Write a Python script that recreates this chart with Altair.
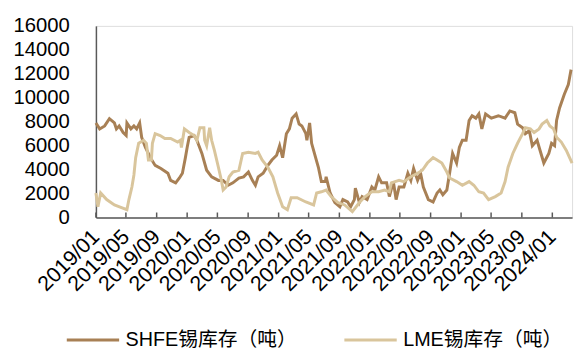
import altair as alt
import pandas as pd

shfe_dates = ["2019/01/01","2019/01/16","2019/02/05","2019/02/24","2019/03/16","2019/03/24","2019/04/04","2019/04/20",
"2019/05/02","2019/05/05","2019/05/21","2019/06/02","2019/06/13","2019/06/25","2019/07/03","2019/07/18","2019/08/07",
"2019/08/26","2019/09/18","2019/10/16","2019/10/27","2019/11/16","2019/12/01","2019/12/13","2019/12/25","2020/01/01",
"2020/01/09","2020/01/29","2020/02/09","2020/02/29","2020/03/19","2020/04/08","2020/05/05","2020/05/24","2020/06/13",
"2020/07/02","2020/07/26","2020/08/14","2020/09/02","2020/09/18","2020/09/30","2020/10/11","2020/10/31","2020/11/19",
"2020/12/05","2020/12/24","2021/01/05","2021/01/17","2021/02/01","2021/02/13","2021/02/24","2021/03/12","2021/03/24",
"2021/04/04","2021/04/20","2021/04/24","2021/05/05","2021/05/13","2021/05/29","2021/06/09","2021/06/21","2021/07/07",
"2021/07/10","2021/07/26","2021/08/14","2021/09/03","2021/09/15","2021/10/04","2021/10/16","2021/10/31","2021/11/04",
"2021/11/20","2021/12/01","2021/12/21","2022/01/09","2022/01/21","2022/02/05","2022/02/17","2022/03/09","2022/03/20",
"2022/04/05","2022/04/16","2022/04/28","2022/05/17","2022/06/02","2022/06/14","2022/06/25","2022/07/11","2022/07/23",
"2022/08/03","2022/08/23","2022/09/11","2022/09/27","2022/10/08","2022/10/20","2022/11/05","2022/11/16","2022/11/28",
"2022/12/14","2022/12/25","2023/01/06","2023/01/21","2023/02/02","2023/02/14","2023/03/01","2023/03/13","2023/03/25",
"2023/04/09","2023/05/02","2023/05/30","2023/06/26","2023/07/15","2023/08/04","2023/08/15","2023/09/04","2023/09/15",
"2023/10/01","2023/10/13","2023/11/01","2023/11/13","2023/11/28","2023/12/18","2023/12/29","2024/01/10","2024/01/18",
"2024/01/30","2024/02/18","2024/03/05","2024/03/16"]
shfe_values = [7900,7400,7650,8250,7900,7400,7650,7100,
6850,7900,7400,7650,7400,7900,6700,5850,5000,
4350,4100,3700,3100,2900,3300,3700,5000,5850,
6700,6850,6450,5350,3950,3400,3100,3100,2700,
2900,3300,3400,3800,3100,2700,3400,3700,4350,
4800,5200,6000,5000,7000,7400,8300,8650,7800,
7650,7000,6450,7900,6200,5000,4200,3000,3000,
3400,2050,1250,900,1500,1300,900,1500,2450,
1250,1750,1500,2550,2300,3400,2900,2900,1750,
3000,1500,2550,2550,3700,3100,4100,3100,3700,
2550,1500,1300,2050,2300,1900,2300,3700,5350,
4550,5850,6450,6450,8100,8500,8300,8650,7400,
8650,8300,8500,8300,8900,8750,7800,7500,7000,
7250,6000,6450,5600,4550,5350,6200,6000,8100,
9150,10300,11100,12350]

lme_dates = ["2019/01/01","2019/01/09","2019/01/20","2019/02/13","2019/03/16","2019/04/16","2019/05/05","2019/05/13",
"2019/05/25","2019/06/02","2019/06/09","2019/06/21","2019/07/11","2019/07/22","2019/07/30","2019/08/11","2019/08/15",
"2019/08/26","2019/09/15","2019/10/04","2019/10/27","2019/11/24","2019/12/05","2019/12/09","2019/12/21","2020/01/09",
"2020/01/29","2020/02/09","2020/02/21","2020/03/08","2020/03/11","2020/03/19","2020/03/31","2020/04/08","2020/04/19",
"2020/05/05","2020/05/17","2020/05/24","2020/06/05","2020/06/17","2020/07/02","2020/07/26","2020/08/10","2020/09/02",
"2020/09/30","2020/10/11","2020/10/27","2020/11/19","2020/12/09","2020/12/28","2021/01/17","2021/02/05","2021/02/20",
"2021/03/16","2021/04/20","2021/05/21","2021/06/02","2021/06/21","2021/07/10","2021/07/30","2021/08/26","2021/09/22",
"2021/10/23","2021/11/20","2021/12/13","2022/01/09","2022/02/05","2022/03/01","2022/03/20","2022/03/28","2022/04/28",
"2022/05/17","2022/06/14","2022/07/11","2022/07/30","2022/08/19","2022/09/11","2022/09/27","2022/10/16","2022/11/05",
"2022/11/16","2022/12/14","2023/01/06","2023/02/02","2023/02/21","2023/03/13","2023/04/01","2023/04/21","2023/05/18",
"2023/06/10","2023/06/26","2023/07/08","2023/07/27","2023/08/15","2023/09/04","2023/09/15","2023/10/05","2023/10/20",
"2023/11/09","2023/11/21","2023/12/10","2023/12/22","2024/01/06","2024/01/18","2024/02/06","2024/02/26","2024/03/20"]
lme_values = [2050,900,2050,1500,1050,800,650,1500,
2550,3550,5000,6200,6450,6200,4800,4800,6200,
7000,6850,6600,6600,6300,6450,5850,7400,7100,
6850,6450,7500,7500,6450,6000,7500,6450,5600,
4200,3100,2300,2550,3400,3800,3950,5350,5450,
5350,5450,4800,4200,3400,2050,900,650,1650,
1650,1300,1050,2050,2150,2300,1750,1250,1050,
500,1250,1750,2150,2150,2300,2150,2900,3100,
3000,3400,3700,3950,4550,5000,4800,4550,3800,
3300,3000,2700,3000,2700,2150,2050,1500,1750,
2050,3000,4200,5350,6200,7000,7500,7400,7100,
7400,7800,8100,7650,7400,6700,6300,5600,4550]

series_names = ["SHFE锡库存（吨）", "LME锡库存（吨）"]
series_colors = ["#A88055", "#D9C59C"]
tick_dates = ["2019/01/01","2019/05/01","2019/09/01","2020/01/01","2020/05/01","2020/09/01",
              "2021/01/01","2021/05/01","2021/09/01","2022/01/01","2022/05/01","2022/09/01",
              "2023/01/01","2023/05/01","2023/09/01","2024/01/01"]
y_ticks = [0, 2000, 4000, 6000, 8000, 10000, 12000, 14000, 16000]

FONT = "Liberation Sans, Arial, Noto Sans CJK SC, sans-serif"

df = pd.concat([
    pd.DataFrame({"date": shfe_dates, "value": shfe_values, "series": series_names[0]}),
    pd.DataFrame({"date": lme_dates, "value": lme_values, "series": series_names[1]}),
])
ticks_df = pd.DataFrame({"date": tick_dates, "y0": 0, "y1": 420})

x_scale = alt.Scale(domain=[alt.DateTime(year=2019, month=1, date=1),
                            alt.DateTime(year=2024, month=3, date=20)])
y_scale = alt.Scale(domain=[0, 16000], nice=False)

x_axis = alt.Axis(values=[alt.DateTime(year=int(d[:4]), month=int(d[5:7]), date=1) for d in tick_dates],
                  format="%Y/%m", labelAngle=-45, labelAlign="right", labelBaseline="middle",
                  labelFontSize=21.5, labelFont=FONT, labelColor="#000000", labelPadding=16,
                  ticks=False, grid=False, domainColor="#595959", domainWidth=1.5,
                  title=None, labelOverlap=False, labelFlush=False, labelBound=False)
y_axis = alt.Axis(values=y_ticks, format="d", labelFontSize=20.5, labelFont=FONT, labelColor="#000000",
                  labelPadding=27, ticks=False, grid=False, domainColor="#595959",
                  domainWidth=1.5, title=None, labelOverlap=False, labelFlush=False)

lines = alt.Chart(df).mark_line(strokeWidth=3).encode(
    x=alt.X("date:T", scale=x_scale, axis=x_axis),
    y=alt.Y("value:Q", scale=y_scale, axis=y_axis),
    color=alt.Color("series:N", scale=alt.Scale(domain=series_names, range=series_colors),
                    legend=alt.Legend(orient="none", legendX=-31, legendY=308, direction="horizontal",
                                      title=None, symbolType="stroke", symbolSize=2809, clipHeight=20,
                                      symbolStrokeWidth=3, labelFontSize=20, labelFont=FONT,
                                      labelColor="#000000", columnPadding=46, labelOffset=5,
                                      labelLimit=400, padding=0)),
)

ticks = alt.Chart(ticks_df).mark_rule(color="#595959", strokeWidth=1.5).encode(
    x=alt.X("date:T", scale=x_scale, axis=x_axis),
    y=alt.Y("y0:Q", scale=y_scale, axis=y_axis),
    y2="y1:Q",
)

chart = alt.layer(ticks, lines).properties(
    width=482, height=194,
    padding={"left": 4, "top": 6, "right": 0, "bottom": 0},
).configure_view(stroke=None).configure(background="white")

chart.save("out.html", embed_options={"renderer": "svg", "actions": False})
